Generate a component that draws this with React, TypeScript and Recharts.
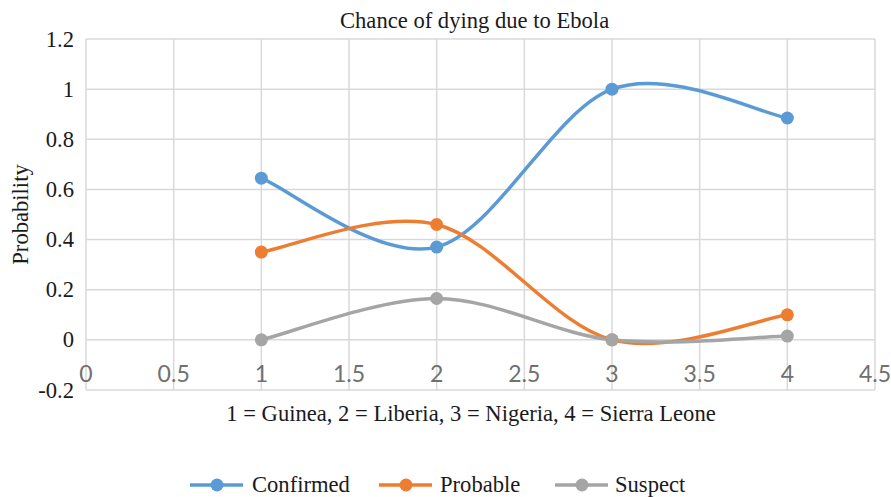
import React from 'react';
import { LineChart, Line, XAxis, YAxis, CartesianGrid } from 'recharts';

const countries = [1, 2, 3, 4];
const confirmed = [0.645, 0.37, 1.0, 0.885];
const probable = [0.35, 0.46, 0.0, 0.1];
const suspect = [0.0, 0.165, 0.0, 0.015];
const seriesNames = ['Confirmed', 'Probable', 'Suspect'];
const seriesColors = ['#5B9BD5', '#ED7D31', '#A5A5A5'];
const xTicks = [0, 0.5, 1, 1.5, 2, 2.5, 3, 3.5, 4, 4.5];
const yTicks = [-0.2, 0, 0.2, 0.4, 0.6, 0.8, 1, 1.2];
const title = 'Chance of dying due to Ebola';
const xTitle = '1 = Guinea, 2 = Liberia, 3 = Nigeria, 4 = Sierra Leone';
const yTitle = 'Probability';

const data = countries.map((c, i) => ({
  x: c,
  Confirmed: confirmed[i],
  Probable: probable[i],
  Suspect: suspect[i],
}));

// Cardinal (Catmull-Rom, tension 0) curve similar to Excel smoothing
const smoothCurve: any = (context: any) => {
  let pts: [number, number][] = [];
  return {
    areaStart() {},
    areaEnd() {},
    lineStart() {
      pts = [];
    },
    point(x: number, y: number) {
      pts.push([+x, +y]);
    },
    lineEnd() {
      const n = pts.length;
      if (n === 0) return;
      context.moveTo(pts[0][0], pts[0][1]);
      if (n === 1) return;
      for (let i = 0; i < n - 1; i++) {
        const p0 = pts[i - 1] || pts[i];
        const p1 = pts[i];
        const p2 = pts[i + 1];
        const p3 = pts[i + 2] || pts[i + 1];
        context.bezierCurveTo(
          p1[0] + (p2[0] - p0[0]) / 6,
          p1[1] + (p2[1] - p0[1]) / 6,
          p2[0] - (p3[0] - p1[0]) / 6,
          p2[1] - (p3[1] - p1[1]) / 6,
          p2[0],
          p2[1]
        );
      }
    },
  };
};

const serif = 'Liberation Serif';
const sans = 'Lato';
const fs = 22.6;

const XTick = (props: any) => {
  const { x, y, payload } = props;
  return (
    <text x={x} y={y - 17} textAnchor="middle" dominantBaseline="central" fontFamily={sans} fontSize={23} fill="#707070">
      {String(payload.value)}
    </text>
  );
};

const YTick = (props: any) => {
  const { x, y, payload } = props;
  return (
    <text x={x} y={y} textAnchor="end" dominantBaseline="central" fontFamily={serif} fontSize={fs} fill="#1a1a1a">
      {String(payload.value)}
    </text>
  );
};

const YLabel = (props: any) => {
  const vb = props.viewBox;
  const cy = vb.y + vb.height / 2;
  return (
    <text x={20} y={cy} transform={`rotate(-90, 20, ${cy})`} textAnchor="middle" dominantBaseline="central" fontFamily={serif} fontSize={fs} fill="#1a1a1a">
      {yTitle}
    </text>
  );
};

const XLabel = () => (
  <text x={471} y={421} textAnchor="middle" fontFamily={serif} fontSize={fs} fill="#1a1a1a">
    {xTitle}
  </text>
);

const legendPos = [
  { line: 190, text: 252 },
  { line: 379, text: 440 },
  { line: 555, text: 615 },
];

export default function App() {
  return (
    <div style={{ position: 'absolute', left: 0, top: 0, width: 891, height: 497, background: '#fff' }}>
      <LineChart width={891} height={497} data={data} margin={{ top: 39, right: 16, left: 0, bottom: 0 }}>
        <CartesianGrid stroke="#d9d9d9" strokeWidth={1.5} verticalValues={xTicks} horizontalValues={yTicks} />
        <XAxis
          dataKey="x"
          type="number"
          domain={[0, 4.5]}
          ticks={xTicks}
          height={107}
          axisLine={false}
          tickLine={false}
          tickSize={0}
          tickMargin={0}
          tick={<XTick />}
          interval={0}
          label={<XLabel />}
        />
        <YAxis
          type="number"
          domain={[-0.2, 1.2]}
          ticks={yTicks}
          width={86}
          axisLine={false}
          tickLine={false}
          tickSize={0}
          tickMargin={12}
          tick={<YTick />}
          interval={0}
          label={<YLabel />}
        />
        {seriesNames.map((name, i) => (
          <Line
            key={name}
            dataKey={name}
            type={smoothCurve}
            stroke={seriesColors[i]}
            strokeWidth={3.5}
            dot={{ r: 6.5, fill: seriesColors[i], stroke: seriesColors[i], strokeWidth: 0 }}
            isAnimationActive={false}
          />
        ))}
      </LineChart>
      <div
        style={{
          position: 'absolute',
          left: 340,
          top: 8,
          whiteSpace: 'nowrap',
          fontFamily: serif,
          fontSize: fs,
          color: '#1a1a1a',
          pointerEvents: 'none',
        }}
      >
        {title}
      </div>
      <svg width={891} height={40} style={{ position: 'absolute', left: 0, top: 465 }}>
        {seriesNames.map((name, i) => (
          <g key={name}>
            <line x1={legendPos[i].line} x2={legendPos[i].line + 53} y1={20} y2={20} stroke={seriesColors[i]} strokeWidth={3.5} />
            <circle cx={legendPos[i].line + 27} cy={20} r={6.5} fill={seriesColors[i]} />
            <text x={legendPos[i].text} y={27} fontFamily={serif} fontSize={fs} fill="#1a1a1a">
              {name}
            </text>
          </g>
        ))}
      </svg>
    </div>
  );
}
